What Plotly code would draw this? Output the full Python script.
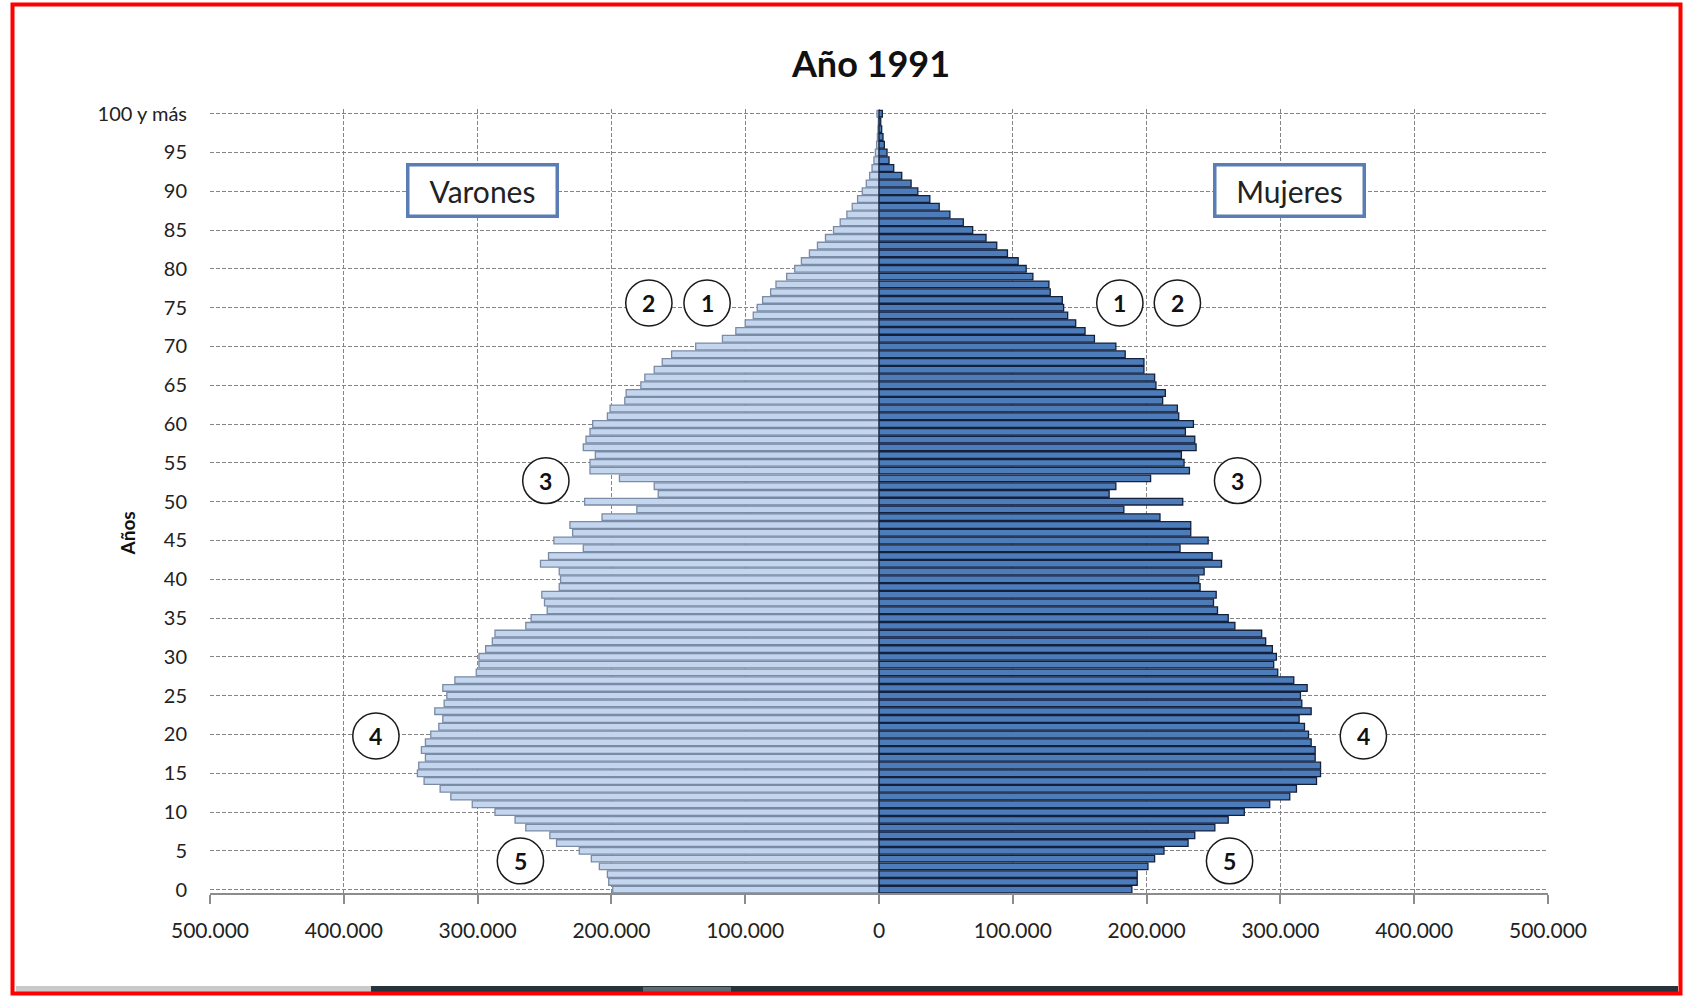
"""Pirámide de población, año 1991."""

import plotly.graph_objects as go

edades = list(range(0, 101))

# población por edad simple, en miles (lectura aproximada del gráfico)
varones_miles = [
    199, 202, 203, 209, 215, 224, 241, 246, 264, 272,
    287, 304, 320, 328, 340, 345, 344, 339, 342, 339,
    335, 329, 326, 332, 325, 323, 326, 317, 301, 299,
    299, 294, 289, 287, 264, 260, 248, 250, 252, 239,
    238, 239, 253, 247, 221, 243, 229, 231, 207, 181,
    220, 165, 168, 194, 216, 216, 212, 221, 219, 216,
    214, 203, 201, 190, 189, 178, 175, 168, 162, 155,
    137, 117, 107, 100, 94, 91, 87, 81, 77, 69,
    63, 58, 52, 46, 40, 34, 29, 24, 20, 16,
    12.5, 9.5, 7, 5.2, 3.8, 2.7, 1.8, 1.2, 0.8, 0.5,
    1.5,
]
mujeres_miles = [
    189, 193, 193, 201, 206, 213, 231, 236, 251, 261,
    273, 292, 307, 312, 327, 330, 330, 326, 326, 323,
    321, 318, 314, 323, 316, 315, 320, 310, 298, 295,
    297, 294, 289, 286, 266, 261, 253, 250, 252, 240,
    239, 243, 256, 249, 225, 246, 233, 233, 210, 183,
    227, 172, 177, 203, 232, 228, 226, 237, 236, 229,
    235, 224, 223, 212, 214, 207, 206, 198, 198, 184,
    177, 161, 154, 147, 141, 138, 137, 128, 127, 115,
    110, 104, 96, 88, 80, 70, 63, 53, 45, 38,
    29, 24, 17, 11, 7.5, 6, 4, 3, 2, 1.3,
    2.5,
]

y_ticks = list(range(0, 101, 5))
y_tick_labels = [str(v) for v in y_ticks[:-1]] + ["100 y más"]
x_ticks = [-500000, -400000, -300000, -200000, -100000, 0, 100000, 200000, 300000, 400000, 500000]
x_tick_labels = ["500.000", "400.000", "300.000", "200.000", "100.000", "0",
                 "100.000", "200.000", "300.000", "400.000", "500.000"]

FONT = "Lato, 'Open Sans', sans-serif"
W, H = 1685, 996
L, T = 210, 109
PW, PH = 1338, 784
R, B = W - L - PW, H - T - PH


def paper_x(px):
    return (px - L) / PW


def paper_y(py):
    return (T + PH - py) / PH


varones = [v * 1000 for v in varones_miles]
mujeres = [v * 1000 for v in mujeres_miles]

fig = go.Figure()
fig.add_trace(go.Bar(
    y=edades,
    x=[-v for v in varones],
    customdata=varones,
    orientation="h",
    name="Varones",
    width=0.86,
    marker={"color": "#c4d6ee", "line": {"color": "#7a8ba6", "width": 1.3}},
    hovertemplate="Varones, %{y} años: %{customdata:,.0f}<extra></extra>",
))
fig.add_trace(go.Bar(
    y=edades,
    x=mujeres,
    orientation="h",
    name="Mujeres",
    width=0.86,
    marker={"color": "#4d7cba", "line": {"color": "#14213d", "width": 1.3}},
    hovertemplate="Mujeres, %{y} años: %{x:,.0f}<extra></extra>",
))

# recuadros de sexo
for texto, xc in [("Varones", -296000), ("Mujeres", 307000)]:
    fig.add_annotation(
        x=xc, y=90.1, text=texto, showarrow=False,
        font={"family": FONT, "size": 30, "color": "#222222"},
        bgcolor="white", bordercolor="#5a7db5", borderwidth=3.5,
        width=146, height=48, borderpad=0,
    )

# llamadas numeradas
llamadas = [
    ("2", -172000, 75.6), ("1", -128500, 75.6), ("1", 180000, 75.6), ("2", 223000, 75.6),
    ("3", -249000, 52.7), ("3", 268000, 52.7),
    ("4", -376000, 19.8), ("4", 362000, 19.8),
    ("5", -268000, 3.7), ("5", 262000, 3.7),
]
rx, ry = 17300, 2.95
for num, xc, yc in llamadas:
    fig.add_shape(
        type="circle", xref="x", yref="y",
        x0=xc - rx, x1=xc + rx, y0=yc - ry, y1=yc + ry,
        fillcolor="white", line={"color": "#1a1a1a", "width": 1.5},
    )
    fig.add_annotation(
        x=xc, y=yc, text=f"<b>{num}</b>", showarrow=False,
        font={"family": FONT, "size": 23, "color": "#111111"},
    )

fig.add_annotation(
    xref="paper", yref="paper", x=paper_x(113), y=paper_y(534),
    text="<b>Años</b>", textangle=-90, showarrow=False,
    font={"family": FONT, "size": 19, "color": "#111111"},
)

# marco rojo y barra inferior de la captura
fig.add_shape(type="rect", xref="paper", yref="paper", layer="below",
              x0=paper_x(16), x1=paper_x(1678), y0=paper_y(986), y1=paper_y(994),
              fillcolor="#27333b", line={"width": 0})
fig.add_shape(type="rect", xref="paper", yref="paper", layer="below",
              x0=paper_x(16), x1=paper_x(371), y0=paper_y(986), y1=paper_y(994),
              fillcolor="#c9c9c9", line={"width": 0})
fig.add_shape(type="rect", xref="paper", yref="paper", layer="below",
              x0=paper_x(643), x1=paper_x(731), y0=paper_y(987), y1=paper_y(993),
              fillcolor="#5d6b73", line={"width": 0})
fig.add_shape(type="rect", xref="paper", yref="paper",
              x0=paper_x(12.5), x1=paper_x(1680.5), y0=paper_y(993.5), y1=paper_y(4.5),
              line={"color": "#ff0000", "width": 4})

fig.update_layout(
    width=W, height=H,
    template="plotly_white",
    paper_bgcolor="white", plot_bgcolor="white",
    barmode="overlay", bargap=0.1,
    showlegend=False,
    margin={"l": L, "r": R, "t": T, "b": B, "autoexpand": False},
    font={"family": FONT, "color": "#222222"},
    title={
        "text": "<b>Año 1991</b>", "x": 871 / W, "xanchor": "center",
        "y": 1 - 64 / H, "yanchor": "middle",
        "font": {"family": FONT, "size": 36, "color": "#111111"},
    },
)
fig.update_xaxes(
    range=[-500000, 500000],
    tickvals=x_ticks, ticktext=x_tick_labels,
    tickfont={"size": 21, "color": "#222222"},
    showgrid=True, gridcolor="#858585", griddash="4px,2px", gridwidth=1,
    zeroline=False,
    showline=True, linecolor="#8c8c8c", linewidth=1.5,
    ticks="outside", ticklen=9, tickcolor="#8c8c8c", tickwidth=1.5,
    ticklabelstandoff=9,
)
fig.update_yaxes(
    range=[-0.43, 100.6],
    tickvals=y_ticks, ticktext=y_tick_labels,
    tickfont={"size": 20, "color": "#222222"},
    showgrid=True, gridcolor="#858585", griddash="4px,2px", gridwidth=1,
    zeroline=False, showline=False,
    ticks="", ticklabelstandoff=22,
)

# sin margen en el body, para que la figura ocupe la ventana entera
fig.write_html(
    "out.html",
    config={"displayModeBar": False},
    post_script="document.body.style.margin='0';document.body.style.overflow='hidden';",
)
